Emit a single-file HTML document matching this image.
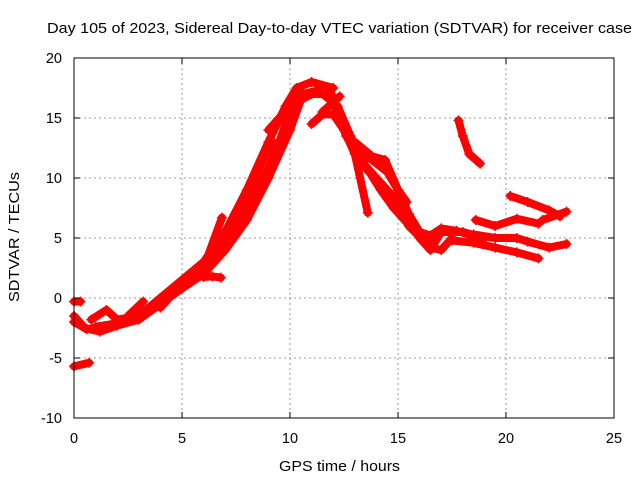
<!DOCTYPE html>
<html><head><meta charset="utf-8"><style>
body{margin:0;background:#fff}
svg{display:block;font-family:"Liberation Sans",sans-serif}
</style></head><body>
<svg id="chart" width="640" height="480">
<rect width="640" height="480" fill="#fff"/>
<text x="47" y="33" font-size="15" textLength="585" lengthAdjust="spacingAndGlyphs">Day 105 of 2023, Sidereal Day-to-day VTEC variation (SDTVAR) for receiver case</text>
<g id="grid"></g>
<g id="marks"></g>
<rect x="74" y="58" width="540" height="360" fill="none" stroke="#000" stroke-width="1"/>
<g id="ticks"></g>
<text x="279" y="471" font-size="15" textLength="121" lengthAdjust="spacingAndGlyphs">GPS time / hours</text>
<text x="0" y="0" font-size="15" text-anchor="middle" textLength="130" lengthAdjust="spacingAndGlyphs" transform="translate(19,237) rotate(-90)">SDTVAR / TECUs</text>
</svg>
<script>
const xTicks=[0,5,10,15,20,25];
const yTicks=[-10,-5,0,5,10,15,20];
const trackHours=[
[0,0.5,1.2,2,3,4,5,6,7,8,9,10,10.5,11,11.8,12.3,13,14,15,16,16.5,17,18,19],
[0.8,1.5,2,3,4,5,6,7,8,9,9.8,10.3,11,12],
[0,0.6,1.3,2.2,3.2,4.2,5.2,6.2,7.2,8.2,9.2,10,10.6,11.3,12,12.6,13.4,14.2,15,15.6],
[2.5,3.2],
[4,5,5.8],
[6,6.4,6.8],
[6.2,6.85],
[11,11.5,12,12.5,13,13.6],
[11.5,12.3],
[13.5,14.2,15,15.5,16,16.5,17,17.7,18.5],
[15.5,16.5,17,17.5],
[17.5,18.5,19.5,20.5,21.5],
[18.5,19.5,20.5,21,22,22.8],
[18.6,19.5,20.5,21.5],
[21.7,22.8],
[17.8,18,18.3,18.8],
[20.2,21,22,22.5],
[0,0.3],
[0,0.7],
[11.8,12.5,13,13.8,14.5,15,15.5,16,16.5],
[12.2,12.8,13.5,14.2,14.8,15.3,15.8],
[13,13.8,14.4,15,15.4],
[7,7.8,8.5,9.2],
[9,9.5,10,10.5],
[1,2,3,4,5]
];
const trackValues=[
[-1.5,-2.5,-2.8,-2.3,-1.8,-0.5,0.8,2,4,6.5,10,14,16.5,17,17,15,12,10,8,5,4,5.5,5.5,5],
[-1.8,-1,-1.8,-1.5,0,1.5,3,5.5,9,13,16,17.5,18,17.5],
[-2,-2.6,-2.4,-2,-1.4,0.2,1.2,2.6,5,8,11.5,15.5,17,17.3,16.3,13.5,11,9.5,7.5,6],
[-1.5,-0.3],
[-0.8,1.2,2.6],
[1.75,1.8,1.7],
[3.5,6.7],
[14.5,15.3,15.3,14,12,7.1],
[15.5,16.8],
[11,9.5,7.5,6.5,5.5,5.2,5.8,5.6,5.2],
[6,4.2,4,5],
[4.8,4.6,4.2,3.8,3.3],
[5.3,5,5,4.7,4.2,4.5],
[6.5,6,6.6,6.2],
[6.5,7.2],
[14.8,13.5,12,11.2],
[8.5,8,7.3,6.8],
[-0.3,-0.3],
[-5.7,-5.4],
[17.5,14.5,12.5,11.5,10.5,9,7,5.5,4.5],
[16,13.5,11,9,7.5,6.5,5.5],
[13,11.8,11.5,9,8],
[5,7.5,10.5,13],
[14,15,16,17],
[-2.4,-2.1,-1.6,-0.3,1.2]
];
const NS="http://www.w3.org/2000/svg";
const X=h=>74+21.6*h;
const Y=v=>58+12*(20-v);
const grid=document.getElementById('grid'),ticks=document.getElementById('ticks'),marks=document.getElementById('marks');
function mk(tag,attrs,parent){const e=document.createElementNS(NS,tag);for(const k in attrs)e.setAttribute(k,attrs[k]);parent.appendChild(e);return e;}
xTicks.forEach(t=>{
  if(t>0&&t<25){const g=mk('line',{x1:X(t),x2:X(t),y1:58,y2:418,stroke:'#999','stroke-dasharray':'2,3'},grid);
  
  }
  const l=mk('text',{x:X(t),y:443,'font-size':14.5,'text-anchor':'middle'},ticks);l.textContent=t;
  
  
  mk('line',{x1:X(t),x2:X(t),y1:418,y2:412,stroke:'#000'},ticks);
  mk('line',{x1:X(t),x2:X(t),y1:58,y2:64,stroke:'#000'},ticks);
});
yTicks.forEach(t=>{
  if(t>-10&&t<20){const g=mk('line',{x1:74,x2:614,y1:Y(t),y2:Y(t),stroke:'#999','stroke-dasharray':'2,3'},grid);
  
  }
  const l=mk('text',{x:62,y:Y(t)+5,'font-size':14.5,'text-anchor':'end'},ticks);l.textContent=t;
  
  
  mk('line',{x1:74,x2:80,y1:Y(t),y2:Y(t),stroke:'#000'},ticks);
  mk('line',{x1:614,x2:608,y1:Y(t),y2:Y(t),stroke:'#000'},ticks);
});
trackHours.forEach((hs,i)=>{
  const vs=trackValues[i];
  const pts=hs.map((h,j)=>X(h)+','+Y(vs[j])).join(' ');
  const p=mk('polyline',{points:pts,fill:'none',stroke:'#f00','stroke-width':8,'stroke-linejoin':'round','stroke-linecap':'round'},marks);
  
  
  hs.forEach((h,j)=>{
    const c=mk('path',{d:`M${X(h)-5},${Y(vs[j])}h10M${X(h)},${Y(vs[j])-5}v10`,stroke:'#f00','stroke-width':1.5},marks);
    
    
  });
});
</script>
</body></html>
